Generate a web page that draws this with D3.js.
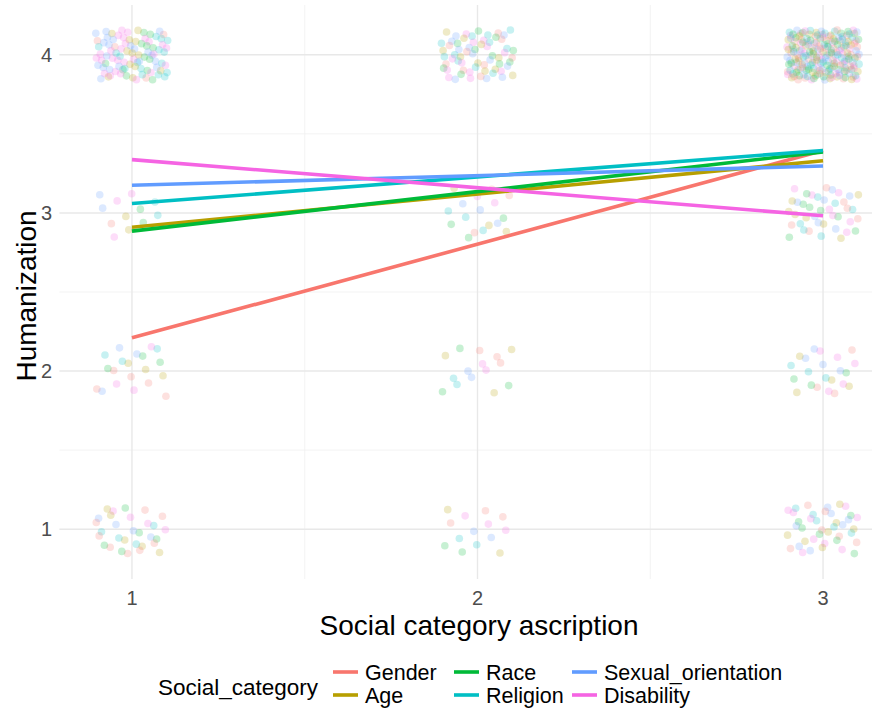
<!DOCTYPE html>
<html>
<head>
<meta charset="utf-8">
<script src="https://cdn.jsdelivr.net/npm/d3@7"></script>
<style>
  html, body { margin: 0; padding: 0; background: #ffffff; }
  svg { display: block; font-family: "Liberation Sans", Arial, sans-serif; }
</style>
</head>
<body>
<svg id="chart" width="872" height="708"></svg>
<script>
// Social categories, in legend order
const categories = ["Gender", "Age", "Race", "Religion", "Sexual_orientation", "Disability"];
const colors = ["#F8766D", "#B79F00", "#00BA38", "#00BFC4", "#619CFF", "#F564E3"];

// Response levels
const xLevels = [1, 2, 3];        // social category ascription
const yLevels = [1, 2, 3, 4];     // humanization

// Number of responses per category: rows = ascription 1..3, columns = humanization 1..4
const countsGender     = [[8, 5, 1, 4],  [3, 3, 3, 9],  [6, 3, 6, 35]];
const countsAge        = [[5, 3, 2, 12], [2, 3, 3, 10], [7, 4, 7, 32]];
const countsRace       = [[5, 3, 2, 12], [2, 3, 3, 10], [6, 3, 7, 35]];
const countsReligion   = [[4, 3, 2, 16], [2, 2, 3, 11], [5, 3, 6, 36]];
const countsSexual     = [[4, 3, 2, 20], [2, 2, 3, 11], [7, 4, 7, 30]];
const countsDisability = [[4, 3, 3, 26], [3, 2, 2, 12], [9, 5, 7, 32]];
const countsByCategory = [countsGender, countsAge, countsRace, countsReligion, countsSexual, countsDisability];

// Fitted humanization at ascription 1 and 3 for each category
const fitAt1 = [2.21, 2.91, 2.885, 3.06, 3.175, 3.337];
const fitAt3 = [3.395, 3.33, 3.385, 3.395, 3.297, 2.982];

// Axis ticks
const xTicks = [1, 2, 3];
const yTicks = [1, 2, 3, 4];
const xMinor = [1.5, 2.5];
const yMinor = [1.5, 2.5, 3.5];

const svg = d3.select("#chart");

const x = d3.scaleLinear().domain([0.79, 3.21]).range([59.4, 895.6]);
const y = d3.scaleLinear().domain([0.685, 4.315]).range([579, 5]);
const panel = { left: 59.4, right: 895.6, top: 5, bottom: 579 };

// Grid lines
const grid = svg.append("g");
grid.selectAll(".ymin").data(yMinor).join("line")
  .attr("x1", panel.left).attr("x2", panel.right)
  .attr("y1", d => y(d)).attr("y2", d => y(d))
  .attr("stroke", "#f0f0f0").attr("stroke-width", 0.8);
grid.selectAll(".xmin").data(xMinor).join("line")
  .attr("y1", panel.top).attr("y2", panel.bottom)
  .attr("x1", d => x(d)).attr("x2", d => x(d))
  .attr("stroke", "#f0f0f0").attr("stroke-width", 0.8);
grid.selectAll(".ymaj").data(yTicks).join("line")
  .attr("x1", panel.left).attr("x2", panel.right)
  .attr("y1", d => y(d)).attr("y2", d => y(d))
  .attr("stroke", "#e8e8e8").attr("stroke-width", 1.4);
grid.selectAll(".xmaj").data(xTicks).join("line")
  .attr("y1", panel.top).attr("y2", panel.bottom)
  .attr("x1", d => x(d)).attr("x2", d => x(d))
  .attr("stroke", "#e8e8e8").attr("stroke-width", 1.4);

// Jitter offsets (Halton sequence, deterministic position adjustment)
function halton(i, b) {
  let f = 1, r = 0;
  while (i > 0) { f /= b; r += f * (i % b); i = Math.floor(i / b); }
  return r;
}
const jitterW = 0.105, jitterH = 0.16;

// Build points: interleave categories within each cell
const points = [];
let seq = 1;
xLevels.forEach((xv, xi) => {
  yLevels.forEach((yv, yi) => {
    const remaining = categories.map((c, ci) => countsByCategory[ci][xi][yi]);
    let any = true;
    while (any) {
      any = false;
      for (let ci = 0; ci < categories.length; ci++) {
        if (remaining[ci] > 0) {
          remaining[ci]--;
          any = true;
          points.push({
            cat: ci, x: xv, y: yv,
            jx: (halton(seq, 5) * 2 - 1) * jitterW,
            jy: (halton(seq, 7) * 2 - 1) * jitterH
          });
          seq++;
        }
      }
    }
  });
});

svg.append("g").selectAll("circle").data(points).join("circle")
  .attr("cx", d => x(d.x + d.jx))
  .attr("cy", d => y(d.y + d.jy))
  .attr("r", 3.8)
  .attr("fill", d => colors[d.cat])
  .attr("fill-opacity", 0.22);

// Regression lines
const fits = categories.map((c, i) => ({ cat: i, pts: [[1, fitAt1[i]], [3, fitAt3[i]]] }));
const line = d3.line().x(d => x(d[0])).y(d => y(d[1]));
svg.append("g").selectAll("path").data(fits).join("path")
  .attr("d", d => line(d.pts))
  .attr("fill", "none")
  .attr("stroke", d => colors[d.cat])
  .attr("stroke-width", 3.6);

// Axis tick labels
svg.append("g").selectAll("text").data(yTicks).join("text")
  .attr("x", 52).attr("y", d => y(d)).attr("dy", "0.35em")
  .attr("text-anchor", "end")
  .attr("font-size", 20).attr("fill", "#4d4d4d")
  .text(d => d);
svg.append("g").selectAll("text").data(xTicks).join("text")
  .attr("x", d => x(d)).attr("y", 605)
  .attr("text-anchor", "middle")
  .attr("font-size", 20).attr("fill", "#4d4d4d")
  .text(d => d);

// Axis titles
svg.append("text")
  .attr("x", 479).attr("y", 635)
  .attr("text-anchor", "middle")
  .attr("font-size", 28).attr("fill", "#000")
  .text("Social category ascription");
svg.append("text")
  .attr("transform", "translate(36,296) rotate(-90)")
  .attr("text-anchor", "middle")
  .attr("font-size", 28).attr("fill", "#000")
  .text("Humanization");

// Legend
const legend = svg.append("g");
legend.append("text")
  .attr("x", 158).attr("y", 695)
  .attr("font-size", 22.5).attr("fill", "#000")
  .text("Social_category");
const colX = [333, 454, 572];
const rowY = [672, 695];
categories.forEach((c, i) => {
  const col = Math.floor(i / 2), row = i % 2;
  const g = legend.append("g").attr("transform", `translate(${colX[col]},${rowY[row]})`);
  g.append("line").attr("x1", 0).attr("x2", 25).attr("y1", 0).attr("y2", 0)
    .attr("stroke", colors[i]).attr("stroke-width", 3.6);
  g.append("text").attr("x", 32).attr("y", 0).attr("dy", "0.35em")
    .attr("font-size", 21.5).attr("fill", "#000")
    .text(c);
});
</script>
</body>
</html>
